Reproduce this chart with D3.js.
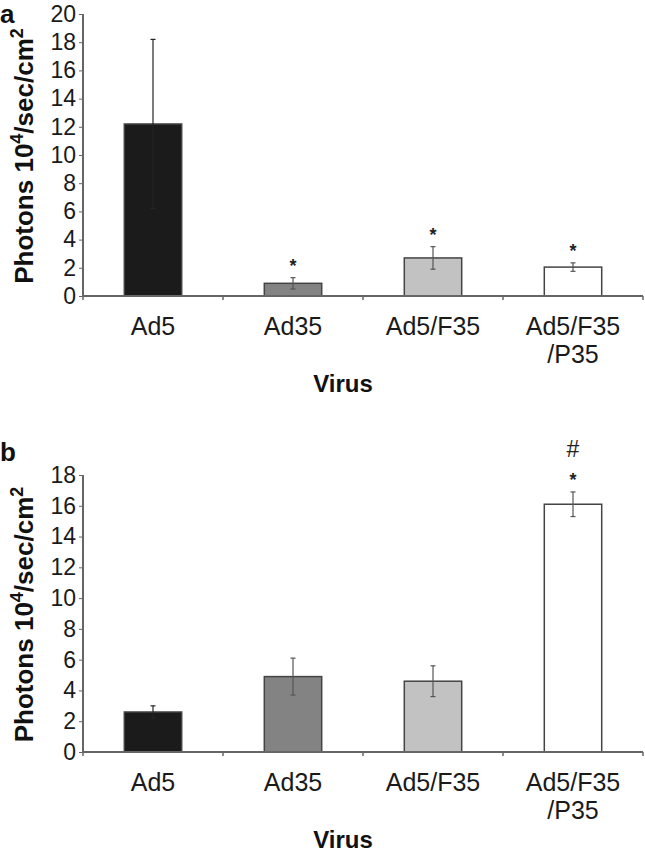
<!DOCTYPE html>
<html>
	<head>
		<meta charset="utf-8">
		<title>Photons by virus</title>
		<script src="https://d3js.org/d3.v7.min.js" charset="utf-8"></script>
		<style>
			body { margin: 0; background: #fff; }
			svg { display: block; font-family: "Liberation Sans", Arial, sans-serif; }
			.tick text { font-size: 23px; fill: #1a1a1a; }
			.axis path, .axis line { stroke: #666; }
			.ytitle, .xtitle, .panel { font-weight: bold; fill: #111; }
		</style>
	</head>
	<body>
		<div id="box"></div>
		<script>
			// data
			var categories = ["Ad5", "Ad35", "Ad5/F35", "Ad5/F35/P35"];
			var labelLines = [["Ad5"], ["Ad35"], ["Ad5/F35"], ["Ad5/F35", "/P35"]];
			var fills = ["#1b1b1b", "#838383", "#c2c2c2", "#ffffff"];

			var valuesA = [12.2, 0.9, 2.7, 2.05];
			var errorsA = [6.0, 0.4, 0.8, 0.3];
			var marksA = [[], ["*"], ["*"], ["*"]];
			var ticksA = [0, 2, 4, 6, 8, 10, 12, 14, 16, 18, 20];

			var valuesB = [2.6, 4.9, 4.6, 16.1];
			var errorsB = [0.4, 1.2, 1.0, 0.8];
			var marksB = [[], [], [], ["*", "#"]];
			var ticksB = [0, 2, 4, 6, 8, 10, 12, 14, 16, 18];

			var svg = d3.select('#box').append('svg').attr('width', 645).attr('height', 852);

			drawPanel({letter: 'a', top: 14, bottom: 296, max: 20, ticks: ticksA, values: valuesA, errors: errorsA, marks: marksA, letterY: 23});
			drawPanel({letter: 'b', top: 475, bottom: 752, max: 18, ticks: ticksB, values: valuesB, errors: errorsB, marks: marksB, letterY: 461});

			function drawPanel(p) {
				var g = svg.append('g');
				var x = d3.scaleBand().domain(categories).range([83, 643]).paddingInner(0.59).paddingOuter(0.295);
				var y = d3.scaleLinear().domain([0, p.max]).range([p.bottom, p.top]);

				// bars
				g.selectAll('.bar').data(categories).enter().append('rect')
					.attr('class', 'bar')
					.attr('x', d => x(d))
					.attr('width', x.bandwidth())
					.attr('y', (d, i) => y(p.values[i]))
					.attr('height', (d, i) => y(0) - y(p.values[i]))
					.attr('fill', (d, i) => fills[i])
					.attr('stroke', '#444')
					.attr('stroke-width', 1.5);

				// error bars
				var eb = g.selectAll('.err').data(categories).enter().append('g').attr('class', 'err')
					.attr('transform', d => `translate(${x(d) + x.bandwidth() / 2},0)`);
				eb.append('line')
					.attr('y1', (d, i) => y(p.values[i] - p.errors[i]))
					.attr('y2', (d, i) => y(p.values[i] + p.errors[i]))
					.attr('stroke', (d, i) => i == 0 ? '#262626' : '#555').attr('stroke-width', 1.2);
				[1, -1].forEach(s => {
					eb.append('line')
						.attr('x1', -2.5).attr('x2', 2.5)
						.attr('y1', (d, i) => y(p.values[i] + s * p.errors[i]))
						.attr('y2', (d, i) => y(p.values[i] + s * p.errors[i]))
						.attr('stroke', (d, i) => i == 0 ? '#262626' : '#555').attr('stroke-width', 1.2);
				});

				// significance marks above the error bars
				eb.each(function(d, i) {
					var top = y(p.values[i] + p.errors[i]);
					p.marks[i].forEach((m, k) => {
						d3.select(this).append('text')
							.attr('text-anchor', 'middle')
							.attr('y', top - 10 - k * 25 + (m == '*' ? 4 : 0))
							.attr('font-size', m == '*' ? 18 : 23)
							.attr('font-weight', m == '*' ? 'bold' : 'normal')
							.attr('fill', '#222')
							.text(m);
					});
				});

				// y axis
				var ya = g.append('g').attr('class', 'axis').attr('transform', 'translate(83,0)')
					.call(d3.axisLeft(y).tickValues(p.ticks).tickSize(4).tickPadding(3));
				ya.select('.domain').attr('stroke-width', 2).attr('d', `M0,${p.top}V${p.bottom}`);

				// x axis with ticks at the band boundaries
				var xa = g.append('g').attr('class', 'axis');
				xa.append('line').attr('x1', 83).attr('x2', 643).attr('y1', p.bottom).attr('y2', p.bottom)
					.attr('stroke', '#666').attr('stroke-width', 2);
				xa.selectAll('.xt').data(d3.range(categories.length + 1)).enter().append('line')
					.attr('x1', i => x.range()[0] + i * x.step()).attr('x2', i => x.range()[0] + i * x.step())
					.attr('y1', p.bottom).attr('y2', p.bottom + 4)
					.attr('stroke', '#666').attr('stroke-width', 1.5);

				// category labels
				var lab = g.selectAll('.cat').data(categories).enter().append('text')
					.attr('class', 'cat')
					.attr('text-anchor', 'middle')
					.attr('font-size', 25)
					.attr('fill', '#1a1a1a')
					.attr('x', d => x(d) + x.bandwidth() / 2)
					.attr('y', p.bottom + 39);
				lab.selectAll('tspan').data((d, i) => labelLines[i]).enter().append('tspan')
					.attr('x', function() { return this.parentNode.getAttribute('x'); })
					.attr('dy', (d, k) => k ? 28 : 0)
					.text(d => d);

				g.append('text').attr('class', 'xtitle')
					.attr('text-anchor', 'middle').attr('font-size', 24)
					.attr('x', 343).attr('y', p.bottom + 96)
					.text('Virus');

				var yt = g.append('text').attr('class', 'ytitle')
					.attr('text-anchor', 'middle').attr('font-size', 26)
					.attr('transform', `translate(33,${(p.top + p.bottom) / 2 + 1}) rotate(-90)`);
				yt.append('tspan').text('Photons 10');
				yt.append('tspan').attr('font-size', 18).attr('dy', -10).text('4');
				yt.append('tspan').attr('dy', 10).text('/sec/cm');
				yt.append('tspan').attr('font-size', 18).attr('dy', -10).text('2');

				g.append('text').attr('class', 'panel')
					.attr('font-size', 26).attr('x', 0).attr('y', p.letterY)
					.text(p.letter);
			}
		</script>
	</body>
</html>
